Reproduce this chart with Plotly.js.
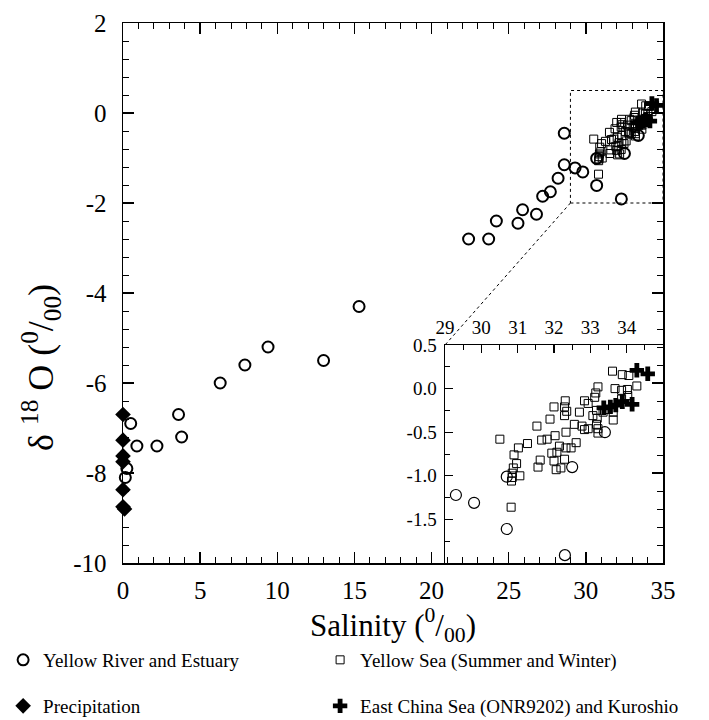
<!DOCTYPE html>
<html><head><meta charset="utf-8">
<script src="https://cdn.plot.ly/plotly-3.0.1.min.js"></script>
<style>body{margin:0;background:#fff}#chart{width:709px;height:720px}</style>
</head><body><div id="chart"></div>
<script>
// ---- data ----
const seriesNames = ['Yellow River and Estuary', 'Yellow Sea (Summer and Winter)', 'Precipitation', 'East China Sea (ONR9202) and Kuroshio'];
const xTitle = 'Salinity (<sup>0</sup>/<sub>00</sub>)';
const yTitle = 'δ <sup>18</sup> O (<sup>0</sup>/<sub>00</sub>)';

const riverSalinity = [0.5, 0.9, 2.2, 3.6, 3.8, 6.3, 7.9, 9.4, 13.0, 15.3, 0.25, 0.15,
  22.4, 23.7, 24.2, 25.6, 25.9, 26.8, 27.2, 27.7, 28.2, 28.6, 28.6,
  29.3, 29.8, 30.7, 30.7, 32.5, 33.4, 32.3];
const riverD18O = [-6.9, -7.4, -7.4, -6.7, -7.2, -6.0, -5.6, -5.2, -5.5, -4.3, -7.9, -8.1,
  -2.8, -2.8, -2.4, -2.45, -2.15, -2.25, -1.85, -1.75, -1.45, -1.15, -0.45,
  -1.22, -1.31, -1.01, -1.61, -0.90, -0.50, -1.91];

const precipSalinity = [0, 0, 0, 0, 0, 0, 0.1];
const precipD18O = [-6.7, -7.27, -7.62, -7.75, -8.37, -8.75, -8.8];

const yellowSeaSalinity = [30.51, 31.02, 31.27, 30.90, 30.97, 30.88, 30.85, 30.85, 30.83, 31.06, 30.82,
  31.53, 31.89, 32.00, 31.66, 31.81, 31.62, 31.56, 31.94, 32.03,
  33.61, 33.88, 34.06, 34.28, 34.02, 33.86, 33.68, 33.21, 33.15, 33.12, 32.84, 32.94,
  32.70, 32.31, 32.29, 32.35, 32.29, 32.56, 32.77, 32.84, 32.94, 33.07, 33.17, 33.19,
  33.17, 33.21, 33.21, 33.35, 33.49, 33.63, 33.63, 33.86, 34.03, 32.33, 32.61, 32.47,
  32.33, 32.15, 32.08, 32.00, 32.29, 32.19, 32.06];
const yellowSeaD18O = [-0.58, -0.68, -0.63, -0.76, -0.86, -0.91, -0.97, -1.02, -1.06, -1.00, -1.36,
  -0.43, -0.35, -0.21, -0.59, -0.58, -0.82, -0.90, -0.74, -0.54,
  0.20, 0.16, 0.15, 0.03, -0.01, -0.02, 0.00, 0.02, -0.05, -0.10, -0.14, -0.17,
  -0.27, -0.14, -0.21, -0.26, -0.31, -0.41, -0.43, -0.47, -0.46, -0.31, -0.25, -0.34,
  -0.41, -0.46, -0.51, -0.27, -0.24, -0.27, -0.36, -0.12, -0.08, -0.50, -0.62, -0.68,
  -0.68, -0.66, -0.73, -0.83, -0.81, -0.91, -0.93];

const ecsSalinity = [33.37, 33.55, 33.70, 33.88, 34.15, 34.28, 34.58];
const ecsD18O = [-0.22, -0.21, -0.19, -0.15, -0.18, 0.21, 0.17];

// axes / ticks
const mainXRange = [0, 35];
const mainYRange = [-10, 2];
const mainXTicks = [0, 5, 10, 15, 20, 25, 30, 35];
const mainYTicks = [2, 0, -2, -4, -6, -8, -10];
const mainYTickText = ['2', '0', '-2', '-4', '-6', '-8', '-10'];
const insetXRange = [29, 35];
const insetYRange = [-2, 0.5];
const insetXTicks = [29, 30, 31, 32, 33, 34];
const insetYTicks = [0.5, 0, -0.5, -1, -1.5];
const insetYTickText = ['0.5', '0.0', '-0.5', '-1.0', '-1.5'];

// ---- layout constants ----
const insetDomX = [0.5963, 1];
const insetDomY = [0, 0.4037];
const FONT = 'Liberation Serif';
const K = '#000';

function mk(x, y, name, marker, axes, legend, show) {
  return {type: 'scatter', mode: 'markers', x: x, y: y, name: name, marker: marker,
    xaxis: axes[0], yaxis: axes[1], legend: legend, showlegend: show, cliponaxis: axes[0] !== 'x', hoverinfo: 'skip'};
}
const mCircle = w => ({symbol: 'circle-open', size: 11, color: K, line: {width: w, color: K}});
const mSquare = {symbol: 'square-open', size: 8, color: K, line: {width: 1, color: K}};
const mDiamond = {symbol: 'diamond', size: 12, color: K, line: {width: 0}};
const mCross = {symbol: 'cross', size: 12, color: K, line: {width: 0}};

const traces = [
  mk(riverSalinity, riverD18O, seriesNames[0], mCircle(2), ['x', 'y'], 'legend', true),
  mk(yellowSeaSalinity, yellowSeaD18O, seriesNames[1], mSquare, ['x', 'y'], 'legend2', true),
  mk(precipSalinity, precipD18O, seriesNames[2], mDiamond, ['x', 'y'], 'legend3', true),
  mk(ecsSalinity, ecsD18O, seriesNames[3], mCross, ['x', 'y'], 'legend4', true),
  mk(riverSalinity, riverD18O, seriesNames[0], mCircle(1.2), ['x2', 'y2'], 'legend', false),
  mk(yellowSeaSalinity, yellowSeaD18O, seriesNames[1], mSquare, ['x2', 'y2'], 'legend2', false),
  mk(ecsSalinity, ecsD18O, seriesNames[3], mCross, ['x2', 'y2'], 'legend4', false)
];

const toPaperX = v => (v - mainXRange[0]) / (mainXRange[1] - mainXRange[0]);
const toPaperY = v => (v - mainYRange[0]) / (mainYRange[1] - mainYRange[0]);

const axBase = {showline: true, linewidth: 1.5, linecolor: K, ticks: 'inside', tickcolor: K,
  showgrid: false, zeroline: false};

const legendBase = {orientation: 'h', xanchor: 'left', yanchor: 'middle',
  font: {size: 19, family: FONT, color: K}, bgcolor: 'rgba(0,0,0,0)', itemclick: false};
const legCol = [-0.222, 0.365];
const legRow = [-0.1796, -0.2648];

const layout = {
  width: 709, height: 720,
  margin: {l: 123, r: 46, t: 23, b: 157, autoexpand: false},
  paper_bgcolor: '#fff', plot_bgcolor: 'rgba(0,0,0,0)',
  font: {family: FONT, color: K},
  xaxis: Object.assign({}, axBase, {
    range: mainXRange, tickmode: 'array', tickvals: mainXTicks, ticklen: 11, tickwidth: 1.5,
    mirror: 'ticks', minor: {dtick: 1, tick0: 0, ticks: 'inside', ticklen: 6, tickwidth: 1, tickcolor: K},
    tickfont: {size: 25, family: FONT}, ticklabelstandoff: 4,
    title: {text: xTitle, font: {size: 31, family: FONT}, standoff: 10}
  }),
  yaxis: Object.assign({}, axBase, {
    range: mainYRange, tickmode: 'array', tickvals: mainYTicks, ticktext: mainYTickText,
    ticklen: 11, tickwidth: 1.5, mirror: 'ticks',
    minor: {dtick: 0.4, tick0: 0, ticks: 'inside', ticklen: 6, tickwidth: 1, tickcolor: K},
    tickfont: {size: 25, family: FONT}, ticklabelstandoff: 10
  }),
  xaxis2: Object.assign({}, axBase, {
    domain: insetDomX, anchor: 'y2', side: 'top', range: insetXRange,
    tickmode: 'array', tickvals: insetXTicks, ticklen: 8, tickwidth: 1.2, mirror: true,
    minor: {dtick: 0.5, tick0: 0, ticks: 'inside', ticklen: 5, tickwidth: 1, tickcolor: K},
    tickfont: {size: 19, family: FONT}, ticklabelstandoff: 2
  }),
  yaxis2: Object.assign({}, axBase, {
    domain: insetDomY, anchor: 'x2', range: insetYRange,
    tickmode: 'array', tickvals: insetYTicks, ticktext: insetYTickText,
    ticklen: 8, tickwidth: 1.2, mirror: true,
    minor: {dtick: 0.25, tick0: 0, ticks: 'inside', ticklen: 5, tickwidth: 1, tickcolor: K},
    tickfont: {size: 19, family: FONT}, ticklabelstandoff: 3
  }),
  annotations: [
    {text: yTitle, xref: 'paper', yref: 'paper', x: -0.152, y: 0.363, xanchor: 'center', yanchor: 'middle',
      textangle: -90, showarrow: false, font: {size: 36, family: FONT, color: K}}
  ],
  legend: Object.assign({}, legendBase, {x: legCol[0], y: legRow[0]}),
  legend2: Object.assign({}, legendBase, {x: legCol[1], y: legRow[0]}),
  legend3: Object.assign({}, legendBase, {x: legCol[0], y: legRow[1]}),
  legend4: Object.assign({}, legendBase, {x: legCol[1], y: legRow[1]}),
  shapes: [
    {type: 'rect', xref: 'x', yref: 'y', x0: insetXRange[0], x1: insetXRange[1], y0: insetYRange[0], y1: insetYRange[1],
      line: {dash: 'dot', width: 1, color: K}},
    {type: 'line', xref: 'paper', yref: 'paper', x0: toPaperX(insetXRange[0]), y0: toPaperY(insetYRange[0]),
      x1: insetDomX[0], y1: insetDomY[1], line: {dash: 'dot', width: 1, color: K}}
  ],
  showlegend: true
};

Plotly.newPlot('chart', traces, layout, {displayModeBar: false, staticPlot: true});
</script>
</body></html>
